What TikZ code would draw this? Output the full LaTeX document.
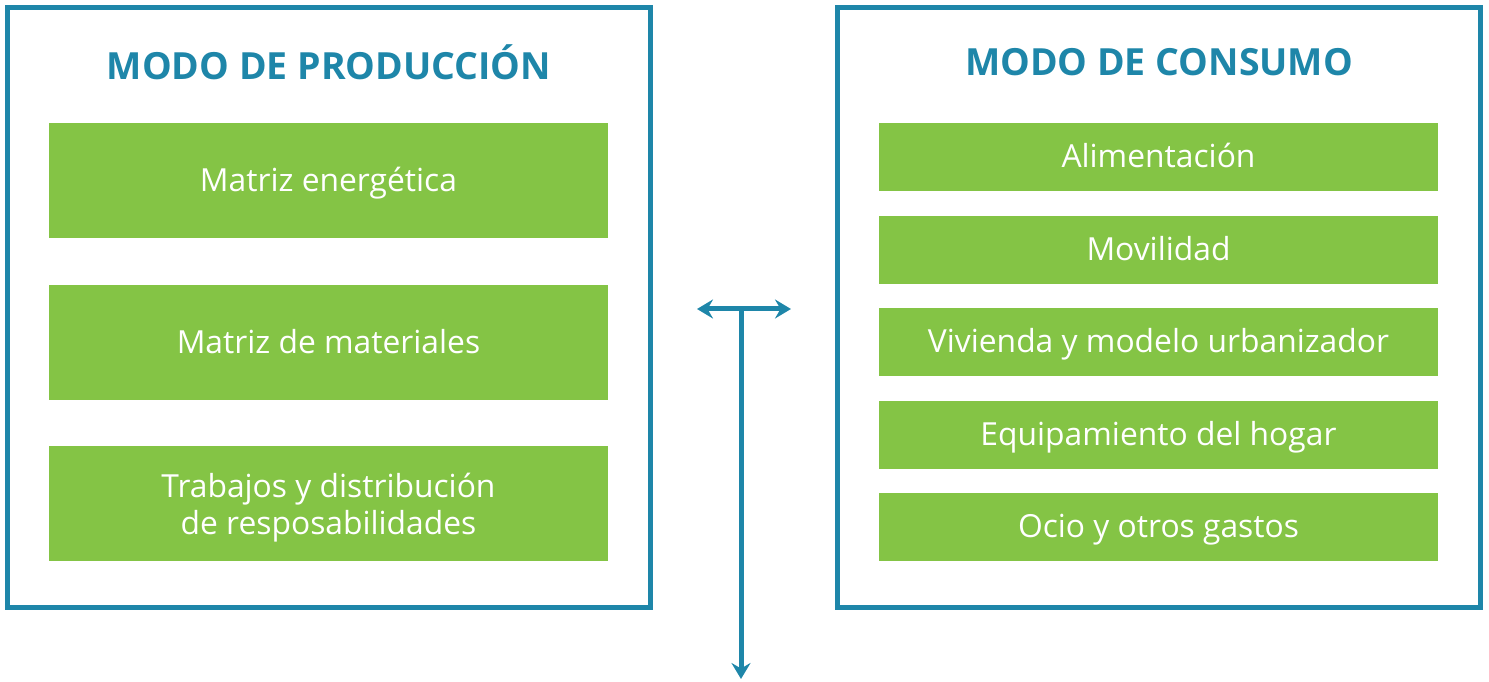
\documentclass[tikz,border=0pt]{standalone}
\usepackage{fontspec}
\setmainfont{Open Sans}
\usetikzlibrary{arrows.meta}
\definecolor{marco}{HTML}{1E86A9}
\definecolor{verde}{HTML}{84C445}
\tikzset{
  caja/.style={draw=marco, line width=0.1cm},
  tema/.style={fill=verde, text=white, font=\fontsize{18.1}{21}\selectfont, minimum width=11.18cm, inner sep=0pt, text height=0.6cm, text depth=0.16cm},
  titulo/.style={text=marco, font=\fontsize{21.3}{25}\selectfont\bfseries},
  punta/.tip={Stealth[length=0.32cm, width=0.38cm, inset=0.11cm]},
  flecha/.style={draw=marco, line width=0.1cm},
}
\begin{document}
\begin{tikzpicture}[x=0.02cm, y=-0.02cm]
    \useasboundingbox (0,0) rectangle (1489,682);

    % marcos
    \draw[caja] (7.5,7.5) rectangle (650.5,607.5);
    \draw[caja] (837.5,7.5) rectangle (1480.5,607.5);

    \node[titulo] (tprod) at (329,62) {MODO DE PRODUCCIÓN};
    \node[titulo] (tcons) at (1159,62) {MODO DE CONSUMO};

    % produccion
    \node[tema, minimum height=2.3cm] (p1) at (328.5,180.5) {Matriz energética};
    \node[tema, minimum height=2.3cm] (p2) at (328.5,342.5) {Matriz de materiales};
    \node[tema, minimum height=2.3cm, text height=0.54cm, text depth=0.02cm] (p3) at (328.5,503.5)
        {\begin{tabular}{@{}c@{}}Trabajos y distribución\\de resposabilidades\end{tabular}};

    % consumo
    \node[tema, minimum height=1.36cm] (c1) at (1158.5,157) {Alimentación};
    \node[tema, minimum height=1.36cm] (c2) at (1158.5,250) {Movilidad};
    \node[tema, minimum height=1.36cm] (c3) at (1158.5,342) {Vivienda y modelo urbanizador};
    \node[tema, minimum height=1.36cm] (c4) at (1158.5,435) {Equipamiento del hogar};
    \node[tema, minimum height=1.36cm] (c5) at (1158.5,527) {Ocio y otros gastos};

    % flechas
    \coordinate (izq) at (697,309);
    \coordinate (der) at (791,309);
    \coordinate (cruce) at (741,309);
    \coordinate (abajo) at (741,679);
    \draw[flecha, punta-punta] (izq) -- (der);
    \draw[flecha, -punta] (cruce) -- (abajo);
\end{tikzpicture}
\end{document}
